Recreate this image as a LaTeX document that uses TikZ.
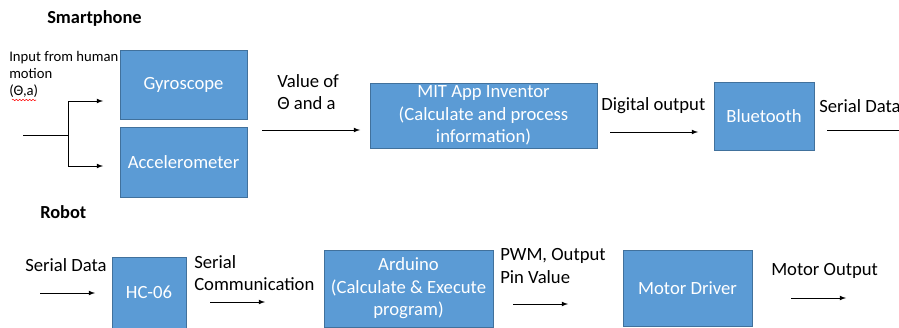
\documentclass[tikz,border=0pt]{standalone}
\usepackage{fontspec}
\setmainfont{Carlito}
\usetikzlibrary{decorations.pathmorphing}
\definecolor{boxblue}{HTML}{5B9BD5}
\definecolor{boxedge}{HTML}{41719C}
\begin{document}
\begin{tikzpicture}[x=0.75pt,y=-0.75pt]

      \tikzset{block/.style={draw=boxedge, fill=boxblue, text=white, font=\fontsize{14}{16.8}\selectfont, align=center, inner sep=0pt},
               lbl/.style={anchor=west, inner sep=0pt, align=left, font=\fontsize{14}{17}\selectfont},
               title/.style={anchor=west, inner sep=0pt, font=\fontsize{13.8}{16}\selectfont\bfseries},
               arr/.style={-latex, line width=0.6pt}}
      \useasboundingbox (0,0) rectangle (899,328);
%% Blocks
      	\node[block, minimum width=95pt, minimum height=51.5pt] (gyro) at (183.5,84.5) {Gyroscope};
      	\node[block, minimum width=95pt, minimum height=52.5pt] (accel) at (183.5,162) {Accelerometer};
      	\node[block, minimum width=170pt, minimum height=48.75pt] (mit) at (483.5,115.5) {MIT App Inventor\\(Calculate and process\\information)};
      	\node[block, minimum width=75pt, minimum height=51pt] (bt) at (764,116) {Bluetooth};
      	\node[block, minimum width=55.5pt, minimum height=53pt] (hc) at (149,292.5) {HC-06};
      	\node[block, minimum width=127pt, minimum height=58pt] (ard) at (408.5,288.5) {Arduino\\(Calculate \& Execute\\program)};
      	\node[block, minimum width=97pt, minimum height=57pt] (motor) at (687.5,288) {Motor Driver};
%% Labels
      	\node[title] (smart) at (47,18) {Smartphone};
      	\node[title] (robot) at (40,212) {Robot};
      	\node[lbl, font=\fontsize{11}{12.9}\selectfont] (input) at (9,74.5) {Input from human\\motion\\(Θ,a)};
      	\node[lbl] (value) at (277,92) {Value of\\Θ and a};
      	\node[lbl] (digital) at (601,106) {Digital output};
      	\node[lbl] (serialout) at (819,106) {Serial Data};
      	\node[lbl] (serialin) at (25,265) {Serial Data};
      	\node[lbl] (comm) at (194,273) {Serial\\Communication};
      	\node[lbl] (pwm) at (500,266) {PWM, Output\\Pin Value};
      	\node[lbl] (motorout) at (771,271) {Motor Output};
%Connector ends
      	\coordinate (in0) at (23,135);
      	\coordinate (split) at (68,135);
      	\coordinate (gin) at (103,101);
      	\coordinate (ain) at (103,166);
      	\coordinate (v0) at (262,130);
      	\coordinate (v1) at (360,130);
      	\coordinate (d0) at (610,132);
      	\coordinate (d1) at (698,132);
      	\coordinate (s0) at (827,130);
      	\coordinate (s1) at (899,130);
      	\coordinate (r0) at (40,293);
      	\coordinate (r1) at (95,293);
      	\coordinate (c0) at (210,302);
      	\coordinate (c1) at (265,302);
      	\coordinate (p0) at (513,304);
      	\coordinate (p1) at (568,304);
      	\coordinate (m0) at (791,298);
      	\coordinate (m1) at (846,298);
%Connectors
		\draw[line width=0.6pt] (in0) -- (split);
		\draw[arr] (split) |- (gin);
		\draw[arr] (split) |- (ain);
		\draw[arr] (v0) -- (v1);
		\draw[arr] (d0) -- (d1);
		\draw[line width=0.6pt] (s0) -- (s1);
		\draw[arr] (r0) -- (r1);
		\draw[arr] (c0) -- (c1);
		\draw[arr] (p0) -- (p1);
		\draw[arr] (m0) -- (m1);
%Spell check mark
		\draw[red, line width=0.4pt, decorate, decoration={snake, amplitude=0.5pt, segment length=2.5pt}] (12,100) -- (36,100);

	\end{tikzpicture}
\end{document}
